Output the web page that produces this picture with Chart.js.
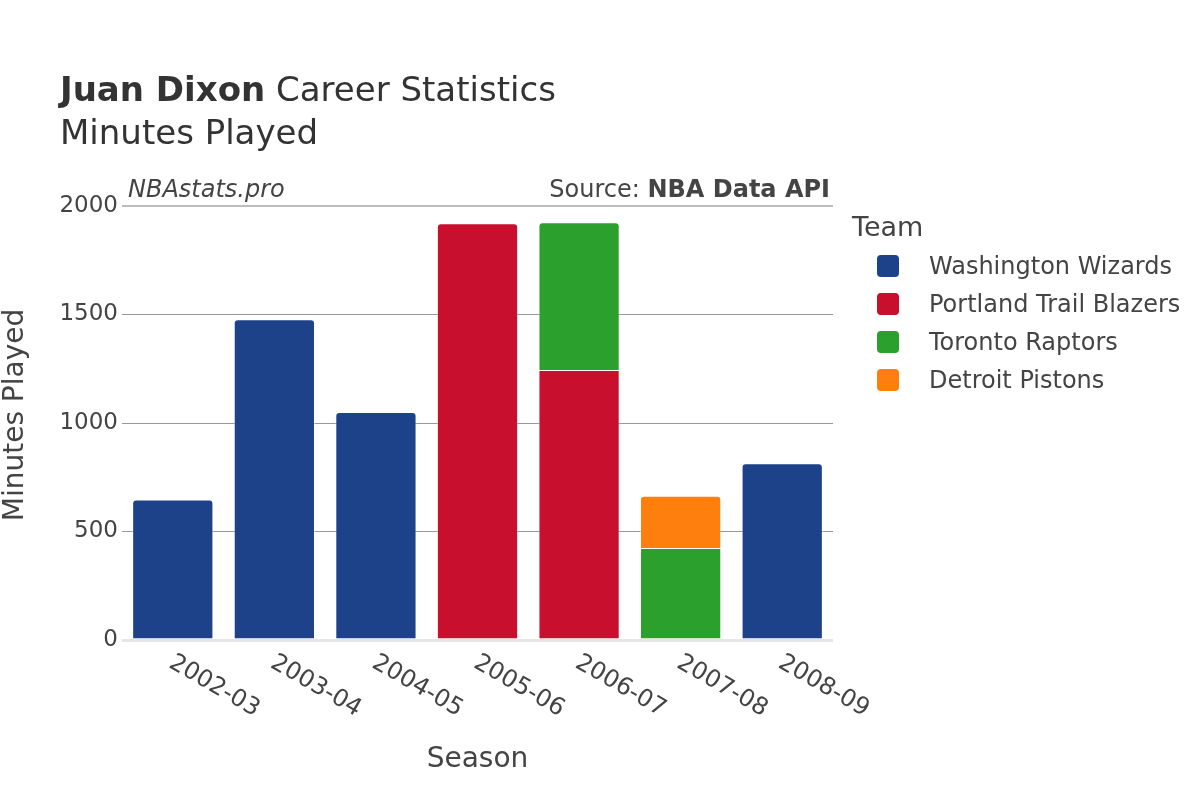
<!DOCTYPE html>
<html>
<head>
<meta charset="utf-8">
<script src="https://cdn.jsdelivr.net/npm/chart.js@4.4.1/dist/chart.umd.min.js"></script>
<style>
  html, body { margin: 0; padding: 0; background: #fff; }
  body { width: 1200px; height: 800px; position: relative; overflow: hidden; font-family: "DejaVu Sans", sans-serif; }
  #c { position: absolute; left: 0; top: 0; }
  .title { position: absolute; left: 60px; color: #333; font-size: 34px; line-height: 40px; white-space: nowrap; }
  #t1 { top: 69px; }
  #t2 { top: 112px; }
  #legend { position: absolute; left: 852px; top: 208px; color: #444; }
  #legend .head { font-size: 27px; line-height: 38px; margin-bottom: 1px; }
  #legend .item { height: 38px; display: flex; align-items: center; font-size: 24px; white-space: nowrap; }
  #legend .sw { width: 22px; height: 22px; border-radius: 4px; margin-left: 25px; margin-right: 30px; }
</style>
</head>
<body>
<canvas id="c" width="1200" height="800"></canvas>
<div class="title" id="t1"><b>Juan Dixon</b> Career Statistics</div>
<div class="title" id="t2">Minutes Played</div>
<div id="legend"></div>
<script>
  // seasons + minutes per team
  const seasons = ['2002-03', '2003-04', '2004-05', '2005-06', '2006-07', '2007-08', '2008-09'];
  const teams = ['Washington Wizards', 'Portland Trail Blazers', 'Toronto Raptors', 'Detroit Pistons'];
  const teamColors = ['#1d428a', '#c8102e', '#2ca02c', '#ff7f0e'];
  const wizards = [648, 1478, 1051, null, null, null, 814];
  const blazers = [null, null, null, 1920, 1244, null, null];
  const raptors = [null, null, null, null, 681, 424, null];
  const pistons = [null, null, null, null, null, 241, null];
  const yTicks = [0, 500, 1000, 1500, 2000];

  const series = [wizards, blazers, raptors, pistons];
  const FONT = '"DejaVu Sans", sans-serif';
  Chart.defaults.font.family = FONT;
  Chart.defaults.color = '#444';

  // header notes, rotated season labels and axis titles
  const extras = {
    id: 'extras',
    afterDraw(chart) {
      const ctx = chart.ctx, area = chart.chartArea, x = chart.scales.x;
      ctx.save();
      ctx.fillStyle = '#444';
      ctx.textBaseline = 'middle';
      ctx.font = 'italic 24px ' + FONT;
      ctx.textAlign = 'left';
      ctx.fillText('NBAstats.pro', 128, 191);
      ctx.font = 'bold 24px ' + FONT;
      ctx.textAlign = 'right';
      const bw = ctx.measureText('NBA Data API').width;
      ctx.fillText('NBA Data API', 830, 191);
      ctx.font = '24px ' + FONT;
      ctx.fillText('Source: ', 830 - bw, 191);

      ctx.font = '24px ' + FONT;
      ctx.textAlign = 'left';
      seasons.forEach((s, i) => {
        const px = x.getPixelForTick(i);
        ctx.save();
        ctx.translate(px - 2, area.bottom + 21);
        ctx.rotate(Math.PI / 6);
        ctx.fillText(s, 0, 0);
        ctx.restore();
      });
      ctx.font = '28px ' + FONT;
      ctx.textAlign = 'center';
      ctx.fillText('Season', (area.left + area.right) / 2, 760);

      ctx.save();
      ctx.translate(16, 415);
      ctx.rotate(-Math.PI / 2);
      ctx.fillText('Minutes Played', 0, 0);
      ctx.restore();
      ctx.restore();
    }
  };

  const gridColor = (c) => c.tick && c.tick.value === 0 ? '#e6e6e6' : (c.tick && c.tick.value === 2000 ? '#bdbdbd' : '#999');
  const gridWidth = (c) => c.tick && c.tick.value === 0 ? 3 : (c.tick && c.tick.value === 2000 ? 2 : 1);

  new Chart(document.getElementById('c'), {
    type: 'bar',
    data: {
      labels: seasons,
      datasets: teams.map((t, i) => ({
        label: t, data: series[i], backgroundColor: teamColors[i],
        borderColor: 'rgba(255,255,255,0.45)', borderWidth: 1, borderRadius: 4,
        categoryPercentage: 1.0, barPercentage: 0.8
      }))
    },
    options: {
      responsive: false, devicePixelRatio: 1, animation: false,
      layout: { padding: { left: 0, top: 206, right: 367, bottom: 0 } },
      plugins: { legend: { display: false }, tooltip: { enabled: false } },
      scales: {
        x: {
          stacked: true,
          grid: { display: false, drawTicks: false },
          border: { display: false },
          ticks: { display: false },
          afterFit: (s) => { s.height = 160; }
        },
        y: {
          stacked: true, min: 0, max: 2000,
          afterBuildTicks: (s) => { s.ticks = yTicks.map(v => ({ value: v })); },
          grid: { color: gridColor, lineWidth: gridWidth, drawTicks: false },
          border: { display: false },
          ticks: { font: { size: 23 }, color: '#444', padding: 4, callback: (v) => String(v) },
          afterFit: (s) => { s.width = 122; }
        }
      }
    },
    plugins: [extras]
  });

  document.getElementById('legend').innerHTML = '<div class="head">Team</div>' +
    teams.map((t, i) => `<div class="item"><span class="sw" style="background:${teamColors[i]}"></span>${t}</div>`).join('');
</script>
</body>
</html>
